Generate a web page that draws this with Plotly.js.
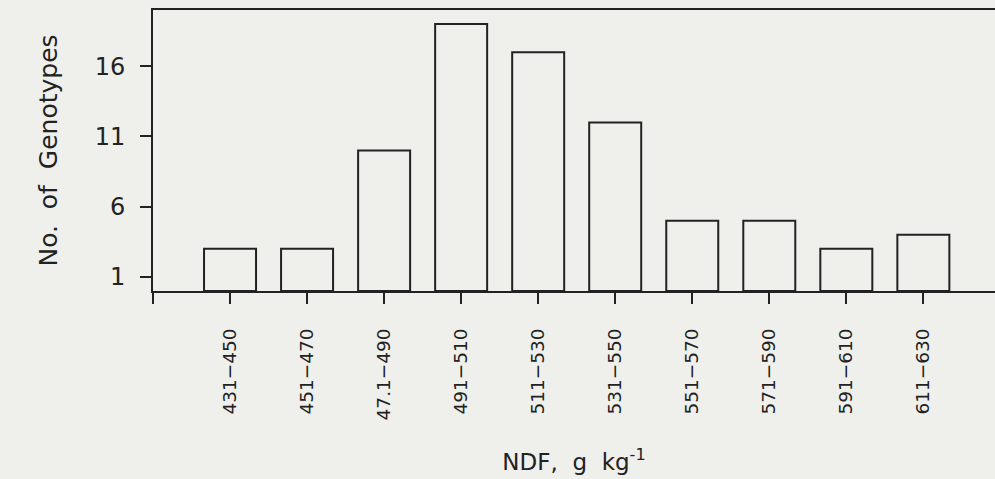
<!DOCTYPE html>
<html>
<head>
<meta charset="utf-8">
<script src="https://cdn.plot.ly/plotly-3.0.1.min.js"></script>
<style>
  html, body { margin: 0; padding: 0; background: #efefec; overflow: hidden; }
  #chart { width: 995px; height: 479px; }
</style>
</head>
<body>
<div id="chart"></div>
<script>
// Data
const categories = ["431\u2212450", "451\u2212470", "47.1\u2212490", "491\u2212510", "511\u2212530",
                    "531\u2212550", "551\u2212570", "571\u2212590", "591\u2212610", "611\u2212630"];
const genotypeCounts = [3, 3, 10, 19, 17, 12, 5, 5, 3, 4];
const yTickValues = [1, 6, 11, 16];

const positions = categories.map((c, i) => i);

const ink = "#222222";
const paper = "#efefec";

const trace = {
  type: "bar",
  x: positions,
  y: genotypeCounts,
  width: 0.675,
  marker: { color: "rgba(0,0,0,0)", line: { color: ink, width: 2 } },
  hoverinfo: "skip",
  showlegend: false
};

const layout = {
  width: 995,
  height: 479,
  margin: { l: 153, r: 0, t: 10, b: 188, pad: 0 },
  paper_bgcolor: paper,
  plot_bgcolor: paper,
  font: { family: "DejaVu Sans", color: ink },
  bargap: 0.325,
  xaxis: {
    range: [-1, 9.93],
    tickvals: positions,
    ticktext: categories,
    tickangle: -90,
    ticks: "outside",
    ticklen: 11,
    tickwidth: 2,
    tickcolor: ink,
    minor: { tickvals: [-1], ticks: "outside", ticklen: 11, tickwidth: 2, tickcolor: ink, showgrid: false },
    ticklabelstandoff: 17,
    tickfont: { family: "DejaVu Sans", size: 18.5, color: ink },
    showline: true,
    linecolor: ink,
    linewidth: 2,
    mirror: true,
    showgrid: false,
    zeroline: false,
    automargin: false,
    title: {
      text: "NDF,\u00A0 g\u00A0 kg<sup>-1</sup>",
      font: { family: "DejaVu Sans", size: 23, color: ink },
      standoff: 34
    }
  },
  yaxis: {
    range: [0, 20],
    tickvals: yTickValues,
    ticktext: yTickValues.map(String),
    ticks: "outside",
    ticklen: 11,
    tickwidth: 2,
    tickcolor: ink,
    ticklabelstandoff: 10,
    tickfont: { family: "DejaVu Sans", size: 24, color: ink },
    showline: true,
    linecolor: ink,
    linewidth: 2,
    showgrid: false,
    zeroline: false,
    automargin: false,
    title: {
      text: "No.\u00A0 of\u00A0 Genotypes",
      font: { family: "DejaVu Sans", size: 25, color: ink },
      standoff: 30
    }
  }
};

Plotly.newPlot("chart", [trace], layout, { staticPlot: true, displayModeBar: false });
</script>
</body>
</html>
